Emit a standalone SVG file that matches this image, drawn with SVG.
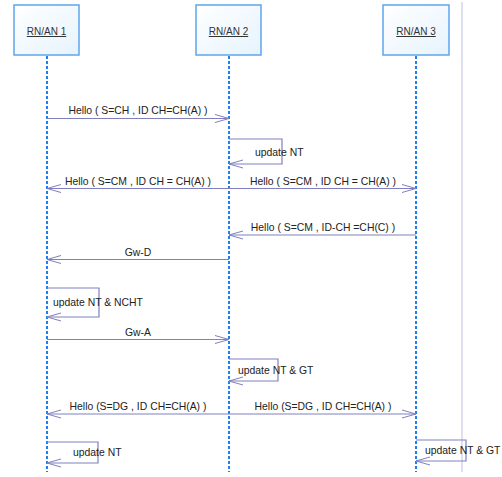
<svg xmlns="http://www.w3.org/2000/svg" width="502" height="477" viewBox="0 0 502 477">
<defs>
<linearGradient id="bx" x1="0" y1="0" x2="1" y2="1">
<stop offset="0" stop-color="#ffffff"/>
<stop offset="1" stop-color="#e6f3fd"/>
</linearGradient>
<marker id="ah" markerUnits="userSpaceOnUse" markerWidth="16" markerHeight="10" refX="14" refY="4.5" orient="auto" overflow="visible">
<path d="M0,0.5 L14,4.5 L0,8.5" fill="none" stroke="#8080c0" stroke-width="1"/>
</marker>
<style>
.box{fill:url(#bx);stroke:#5ea6ec;stroke-width:1.5}
.lbl{font-family:"Liberation Sans",Arial,sans-serif;font-size:10px;fill:#333;text-decoration:underline;text-anchor:middle}
.life{stroke:#1e7ff0;stroke-width:2;stroke-dasharray:3,2;fill:none}
.msg{stroke:#8080c0;stroke-width:1.2;fill:none;marker-end:url(#ah)}
.t{font-family:"Liberation Sans",Arial,sans-serif;font-size:10.4px;fill:#222}
.c{text-anchor:middle}
</style>
</defs>
<rect x="0" y="0" width="502" height="477" fill="#fff"/>
<line x1="462" y1="2" x2="462" y2="472" stroke="#d4d4ea" stroke-width="1.5"/>
<g id="node-rnan1">
<rect class="box" x="14" y="5" width="65" height="50"/>
<text class="lbl" x="46.5" y="35">RN/AN 1</text>
<line class="life" x1="47" y1="56" x2="47" y2="472"/>
</g>
<g id="node-rnan2">
<rect class="box" x="196" y="5" width="65" height="50"/>
<text class="lbl" x="228.5" y="35">RN/AN 2</text>
<line class="life" x1="229" y1="56" x2="229" y2="472"/>
</g>
<g id="node-rnan3">
<rect class="box" x="383" y="5" width="66" height="50"/>
<text class="lbl" x="416" y="35">RN/AN 3</text>
<line class="life" x1="416" y1="56" x2="416" y2="472"/>
</g>
<g id="connectors">
<line class="msg" x1="47" y1="118.5" x2="229" y2="118.5"/>
<text class="t c" x="138" y="114">Hello ( S=CH , ID CH=CH(A) )</text>
<path class="msg" d="M229,139 H282 V164 H229"/>
<text class="t" x="255" y="155.5">update NT</text>
<line class="msg" x1="229" y1="188.5" x2="47" y2="188.5"/>
<text class="t c" x="138" y="184.5">Hello ( S=CM , ID CH = CH(A) )</text>
<line class="msg" x1="229" y1="188.5" x2="416" y2="188.5"/>
<text class="t c" x="323" y="184.5">Hello ( S=CM , ID CH = CH(A) )</text>
<line class="msg" x1="416" y1="235" x2="229" y2="235"/>
<text class="t c" x="323" y="231">Hello ( S=CM , ID-CH =CH(C) )</text>
<line class="msg" x1="229" y1="259.5" x2="47" y2="259.5"/>
<text class="t c" x="138" y="255.5">Gw-D</text>
<path class="msg" d="M47,288 H99 V317 H47"/>
<text class="t" x="53" y="306">update NT &amp; NCHT</text>
<line class="msg" x1="47" y1="339.5" x2="229" y2="339.5"/>
<text class="t c" x="138" y="335.5">Gw-A</text>
<path class="msg" d="M229,359 H278 V381 H229"/>
<text class="t" x="238" y="374">update NT &amp; GT</text>
<line class="msg" x1="229" y1="414" x2="47" y2="414"/>
<text class="t c" x="138" y="410">Hello (S=DG , ID CH=CH(A) )</text>
<line class="msg" x1="229" y1="414" x2="416" y2="414"/>
<text class="t c" x="323" y="410">Hello (S=DG , ID CH=CH(A) )</text>
<path class="msg" d="M47,442 H98 V463 H47"/>
<text class="t" x="73" y="456">update NT</text>
<path class="msg" d="M416,440 H466 V461 H416"/>
<text class="t" x="425" y="453.5">update NT &amp; GT</text>
</g>
</svg>
